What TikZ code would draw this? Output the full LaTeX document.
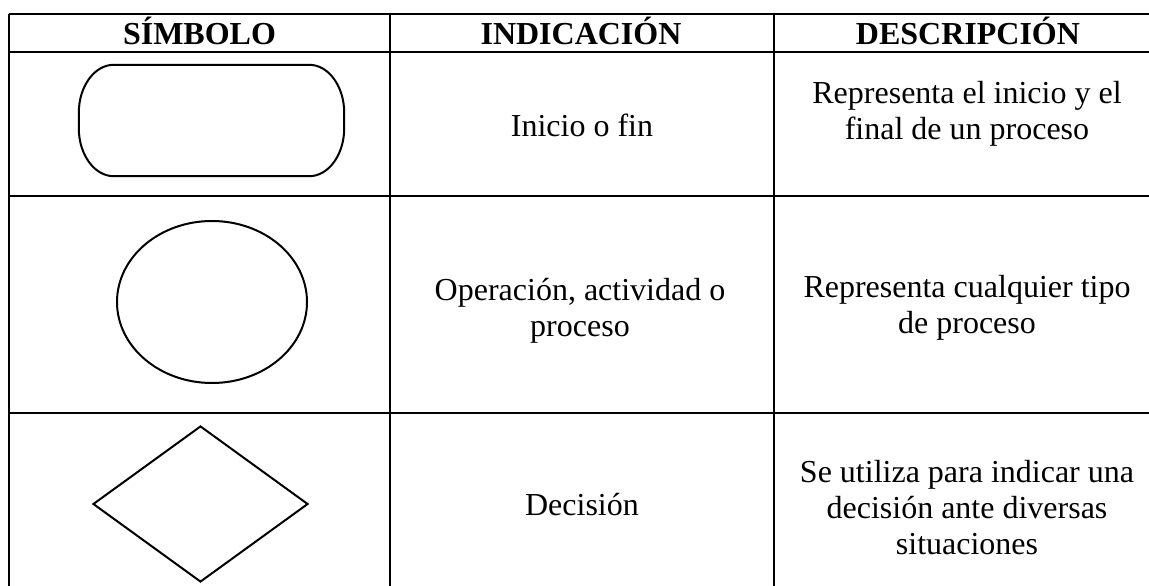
\documentclass[tikz,border=0pt]{standalone}
\usepackage{fontspec}
\setmainfont{Liberation Serif}
\usepackage{tikz}
\usetikzlibrary{shapes,positioning}

\begin{document}
\begin{tikzpicture}[x=1pt, y=-1pt,
    grid/.style={line width=2.1pt},
    sym/.style={draw, line width=2pt, inner sep=0pt},
    head/.style={font=\fontsize{32}{36}\selectfont\bfseries, anchor=base},
    txt/.style={font=\fontsize{32}{36}\selectfont, align=center}]
    \useasboundingbox (0,0) rectangle (1149,586);

    % table lines
    \draw [grid] (9,14) -- (1149,14);
    \draw [grid] (9,52) -- (1149,52);
    \draw [grid] (9,196) -- (1149,196);
    \draw [grid] (9,413) -- (1149,413);
    \draw [grid] (9,14) -- (9,586);
    \draw [grid] (390,14) -- (390,586);
    \draw [grid] (774,14) -- (774,586);

    % headers
    \node [head] (hsym) at (199.5,45) {SÍMBOLO};
    \node [head] (hind) at (581,45) {INDICACIÓN};
    \node [head] (hdesc) at (968,45) {DESCRIPCIÓN};

    % symbols
    \node [inner sep=0pt, minimum width=265, minimum height=111] (term) at (211.5,120.5) {};
    \draw [sym] ([xshift=35pt]term.north west) -- ([xshift=-35pt]term.north east)
        arc [start angle=90, end angle=0, x radius=35pt, y radius=48pt]
        -- ([yshift=48pt]term.south east)
        arc [start angle=0, end angle=-90, x radius=35pt, y radius=48pt]
        -- ([xshift=35pt]term.south west)
        arc [start angle=270, end angle=180, x radius=35pt, y radius=48pt]
        -- ([yshift=-48pt]term.north west)
        arc [start angle=180, end angle=90, x radius=35pt, y radius=48pt] -- cycle;
    \node [sym, ellipse, minimum width=190, minimum height=162] (oper) at (212,302) {};
    \node [sym, diamond, minimum width=215, minimum height=156] (dec) at (200.5,504) {};

    % indication
    \node [txt, anchor=base] (indterm) at (582,136) {Inicio o fin};
    \node [txt] (indoper) at (580,311) {Operación, actividad o\\proceso};
    \node [txt, anchor=base] (inddec) at (582,515) {Decisión};

    % description
    \node [txt] (descterm) at (967,114) {Representa el inicio y el\\final de un proceso};
    \node [txt] (descoper) at (967,308) {Representa cualquier tipo\\de proceso};
    \node [txt] (descdec) at (967,508) {Se utiliza para indicar una\\decisión ante diversas\\situaciones};
\end{tikzpicture}
\end{document}
